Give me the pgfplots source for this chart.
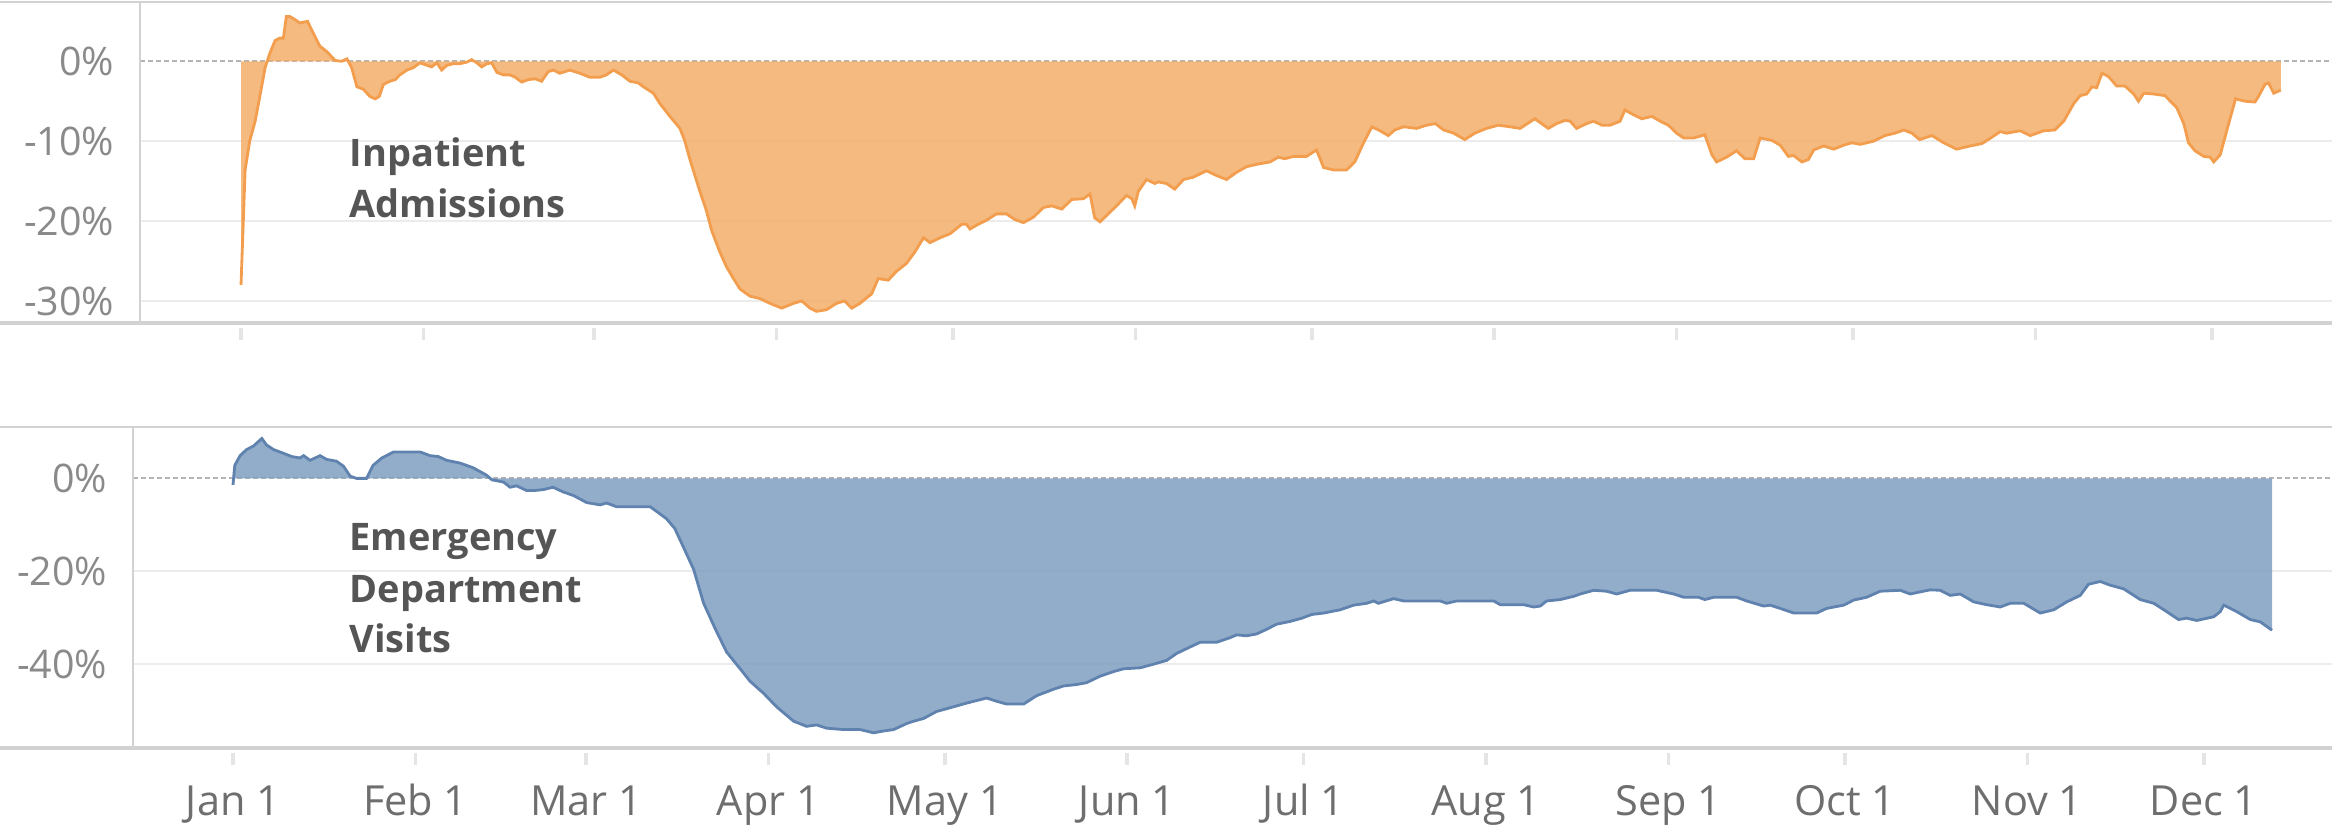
\documentclass[border=0pt]{standalone}
\usepackage{fontspec}
\setmainfont{Open Sans}
\usepackage{pgfplots}
\usepackage{pgfplotstable}
\pgfplotsset{compat=1.18}

\definecolor{orfill}{RGB}{243,174,106}
\definecolor{orline}{RGB}{242,158,78}
\definecolor{blfill}{RGB}{127,159,192}
\definecolor{blline}{RGB}{96,130,175}
\definecolor{gridc}{RGB}{236,236,236}
\definecolor{zeroc}{RGB}{180,180,180}
\definecolor{framec}{RGB}{210,210,210}
\definecolor{ticklab}{RGB}{138,138,138}
\definecolor{monthlab}{RGB}{110,110,110}
\definecolor{labc}{RGB}{85,85,85}

% day of year (0 = Jan 1), percent change
\pgfplotstableread{
d v
0 -28.0
0.7 -13.6
1.5 -9.9
2.4 -7.5
3.2 -4.4
4.1 -0.8
4.9 1.0
5.8 2.6
6.6 2.9
7.2 2.9
7.7 5.6
8.3 5.6
9.2 5.2
10.0 4.8
11.3 5.0
12.3 3.5
13.4 1.9
14.6 1.2
16.0 0.1
17.1 0.0
18.0 0.3
18.8 -0.8
19.7 -3.2
20.8 -3.5
21.9 -4.4
22.8 -4.7
23.5 -4.4
24.2 -2.9
25.3 -2.5
26.2 -2.3
27.0 -1.7
28.2 -1.1
29.3 -0.8
30.4 -0.2
31.6 -0.5
32.4 -0.7
33.3 -0.2
34.1 -1.1
35.0 -0.5
36.1 -0.3
37.2 -0.3
38.4 -0.1
39.2 0.2
40.1 -0.2
40.9 -0.7
41.8 -0.3
42.6 -0.2
43.5 -1.4
44.6 -1.7
45.7 -1.7
46.6 -2.0
47.7 -2.6
48.8 -2.3
50.0 -2.2
51.1 -2.5
52.2 -1.3
53.1 -1.1
54.2 -1.5
55.9 -1.1
57.6 -1.5
59.3 -2.0
61.0 -2.0
62.1 -1.7
63.3 -1.1
64.7 -1.7
66.1 -2.5
67.5 -2.7
68.4 -3.2
70.1 -4.0
71.2 -5.3
72.9 -6.9
74.6 -8.4
75.4 -9.9
76.3 -12.3
78.0 -16.3
79.1 -18.7
80.0 -21.2
81.4 -23.9
82.5 -25.7
83.7 -27.2
84.8 -28.5
86.5 -29.4
88.2 -29.7
89.9 -30.3
91.9 -30.9
93.9 -30.3
95.3 -30.0
96.7 -30.9
97.8 -31.3
99.5 -31.1
101.2 -30.3
102.6 -30.0
103.8 -30.9
105.2 -30.3
107.2 -29.1
108.3 -27.2
110.0 -27.4
111.4 -26.3
113.1 -25.3
114.5 -23.9
116.0 -22.1
117.1 -22.7
118.8 -22.1
120.5 -21.6
122.5 -20.4
123.3 -20.4
123.9 -21.0
125.3 -20.4
126.7 -19.9
128.4 -19.1
130.1 -19.1
131.5 -19.8
133.0 -20.2
134.7 -19.5
136.4 -18.3
137.8 -18.1
139.5 -18.5
141.2 -17.3
143.2 -17.2
144.3 -16.6
145.1 -19.6
146.0 -20.1
147.4 -19.1
148.8 -18.1
150.5 -16.8
151.4 -17.2
151.9 -18.1
152.5 -16.3
153.9 -14.8
155.3 -15.3
155.9 -15.1
157.3 -15.3
158.7 -16.0
160.2 -14.8
161.9 -14.5
164.1 -13.7
165.8 -14.3
167.5 -14.8
169.2 -13.9
170.9 -13.2
172.6 -12.9
174.9 -12.6
176.3 -12.0
177.4 -12.2
178.9 -11.9
181.1 -11.9
182.8 -11.1
184.0 -13.3
185.7 -13.6
187.9 -13.6
189.3 -12.6
190.8 -10.2
192.2 -8.2
193.6 -8.7
195.0 -9.3
196.1 -8.6
197.6 -8.2
199.8 -8.4
201.5 -8.0
203.0 -7.8
204.4 -8.6
206.1 -9.0
208.0 -9.8
209.7 -9.0
211.7 -8.4
213.7 -8.0
215.7 -8.2
217.4 -8.4
219.9 -7.2
222.2 -8.4
223.6 -7.8
225.0 -7.4
225.9 -7.5
227.0 -8.4
228.7 -7.8
229.9 -7.5
231.3 -8.0
232.7 -8.0
234.4 -7.5
235.2 -6.1
236.7 -6.7
238.1 -7.2
239.8 -6.9
241.2 -7.5
242.6 -8.0
244.0 -9.0
245.2 -9.6
246.9 -9.6
248.8 -9.2
250.0 -11.7
250.8 -12.6
252.5 -12.0
254.2 -11.2
255.6 -12.2
257.1 -12.2
258.2 -9.6
260.2 -9.9
261.6 -10.5
263.0 -11.9
263.9 -11.8
265.3 -12.6
266.4 -12.3
267.3 -11.1
269.0 -10.6
270.7 -11.0
272.4 -10.5
273.8 -10.2
275.2 -10.4
277.5 -10.0
279.4 -9.3
281.1 -9.0
282.6 -8.6
284.0 -9.0
285.3 -9.8
287.4 -9.3
289.4 -10.2
291.6 -11.0
293.9 -10.6
295.9 -10.3
297.6 -9.5
299.0 -8.8
300.1 -9.0
302.4 -8.7
304.1 -9.3
306.4 -8.7
308.3 -8.6
309.8 -7.5
311.5 -5.3
312.6 -4.3
313.7 -4.1
314.6 -3.2
315.4 -3.3
316.3 -1.5
317.4 -1.9
318.8 -3.1
320.2 -3.1
321.7 -4.1
322.5 -5.0
323.4 -4.0
325.1 -4.1
327.0 -4.3
329.0 -5.8
330.2 -7.8
331.0 -10.2
332.1 -11.2
333.6 -11.9
334.7 -12.0
335.3 -12.6
336.4 -11.7
337.5 -8.7
339.0 -4.7
340.6 -5.0
342.3 -5.1
342.9 -4.4
344.0 -2.9
344.6 -2.7
345.5 -4.0
346.7 -3.6
}\inpatient

\pgfplotstableread{
d v
0 -1.4
0.3 2.8
1.2 4.9
2.3 6.2
3.5 7.0
4.9 8.6
5.7 7.2
6.9 6.2
8.6 5.4
10.0 4.7
11.4 4.4
12.0 4.9
13.1 3.9
14.8 4.9
15.9 4.1
17.6 3.7
18.8 2.6
19.9 0.5
21.0 0.0
22.7 0.0
23.8 2.8
25.3 4.4
27.3 5.7
29.5 5.7
31.8 5.7
33.5 4.9
34.9 4.7
36.3 3.9
38.6 3.3
40.8 2.3
43.1 0.7
44.0 -0.3
46.0 -0.8
47.1 -1.9
48.2 -1.6
49.9 -2.6
51.3 -2.6
52.8 -2.4
54.4 -1.9
56.1 -2.9
57.9 -3.7
60.1 -5.2
62.4 -5.7
63.5 -5.3
65.2 -6.1
70.9 -6.1
72.0 -7.1
73.7 -8.7
75.1 -10.8
76.6 -14.9
78.3 -19.6
80.0 -26.9
81.9 -32.2
83.9 -37.4
86.2 -41.0
87.9 -43.7
90.2 -46.3
92.4 -49.2
95.3 -52.3
97.5 -53.4
99.2 -53.1
100.9 -53.8
103.8 -54.1
106.6 -54.1
108.9 -54.8
110.6 -54.4
112.3 -54.1
114.5 -52.8
115.7 -52.3
117.4 -51.7
119.6 -50.2
121.9 -49.4
124.7 -48.4
128.1 -47.3
129.8 -48.0
131.5 -48.6
134.4 -48.6
136.6 -46.8
139.5 -45.4
141.2 -44.7
143.4 -44.4
145.1 -44.0
147.4 -42.6
149.7 -41.6
151.4 -41.0
154.2 -40.8
156.5 -40.0
158.7 -39.2
160.4 -37.7
162.7 -36.3
164.4 -35.3
167.2 -35.3
169.5 -34.3
170.6 -33.7
172.3 -33.9
174.0 -33.5
175.7 -32.5
177.4 -31.4
179.7 -30.8
181.7 -30.1
183.4 -29.3
185.4 -29.0
188.2 -28.3
190.5 -27.3
192.7 -26.9
193.9 -26.4
194.7 -26.9
197.3 -25.9
199.0 -26.4
205.2 -26.4
206.3 -26.9
208.0 -26.4
214.3 -26.4
215.4 -27.2
219.4 -27.2
221.1 -27.7
222.2 -27.5
223.3 -26.4
225.6 -26.1
227.9 -25.4
229.0 -24.9
231.3 -24.1
233.5 -24.3
235.2 -24.9
237.5 -24.1
242.0 -24.1
244.9 -24.9
246.6 -25.6
249.1 -25.6
250.2 -26.1
251.7 -25.6
255.6 -25.6
257.3 -26.4
260.2 -27.5
261.3 -27.3
263.0 -28.0
265.3 -29.0
269.2 -29.0
270.9 -28.0
273.8 -27.3
275.5 -26.2
277.7 -25.6
280.0 -24.3
283.4 -24.1
285.1 -24.9
286.2 -24.6
288.5 -24.0
290.2 -24.1
291.9 -25.2
293.6 -24.9
295.9 -26.6
298.1 -27.2
300.4 -27.7
302.1 -26.9
304.4 -26.9
307.2 -29.0
309.5 -28.3
311.7 -26.6
314.0 -25.2
315.4 -22.8
317.4 -22.2
319.1 -23.0
321.4 -23.8
324.2 -26.1
326.5 -26.9
328.7 -28.7
330.7 -30.4
332.1 -30.1
333.8 -30.6
336.7 -29.8
337.8 -28.7
338.4 -27.3
340.6 -28.7
342.9 -30.4
344.6 -30.9
346.6 -32.7
}\emergency

\pgfplotsset{
  panel/.style={
    scale only axis,
    axis line style={draw=none},
    ymajorgrids,
    grid style={gridc, line width=0.6pt},
    ytick style={draw=none},
    extra y ticks={0},
    extra y tick labels={0\%},
    extra y tick style={grid style={zeroc, line width=0.6pt, dash pattern=on 0.05cm off 0.03cm}},
    xtick={0,31,60,91,121,152,182,213,244,274,305,335},
    xtick pos=bottom,
    major tick length=0.12cm,
    xtick style={draw=black!10, line width=1pt, yshift=-0.17cm},
    yticklabel style={font=\fontsize{11.2}{13}\selectfont, text=ticklab,
                      anchor=east, inner sep=0pt, xshift=-0.25cm},
  },
}

\begin{document}
\begin{tikzpicture}
\useasboundingbox (0,0) rectangle (23.32,8.25);

\begin{axis}[panel,
  at={(1.40cm,5.02cm)}, anchor=south west,
  width=21.92cm, height=3.21cm,
  xmin=-17.17, xmax=355.4, ymin=-32.76, ymax=7.42,
  ytick={-30,-20,-10}, yticklabels={-30\%,-20\%,-10\%},
  xticklabels={},
]
\addplot[draw=none, fill=orfill, fill opacity=0.85] table[x=d,y=v] {\inpatient} \closedcycle;
\addplot[orline, line width=0.8pt] table[x=d,y=v] {\inpatient};
\end{axis}

\begin{axis}[panel,
  at={(1.33cm,0.77cm)}, anchor=south west,
  width=21.99cm, height=3.214cm,
  xmin=-17.0, xmax=356.8, ymin=-58.07, ymax=11.16,
  ytick={-40,-20}, yticklabels={-40\%,-20\%},
  xticklabels={Jan 1,Feb 1,Mar 1,Apr 1,May 1,Jun 1,Jul 1,Aug 1,Sep 1,Oct 1,Nov 1,Dec 1},
  xticklabel style={font=\fontsize{11.8}{13}\selectfont, text=monthlab,
                    anchor=base, inner sep=0pt, yshift=-0.67cm},
]
\addplot[draw=none, fill=blfill, fill opacity=0.85] table[x=d,y=v] {\emergency} \closedcycle;
\addplot[blline, line width=0.8pt] table[x=d,y=v] {\emergency};
\end{axis}

% panel frames
\draw[framec, line width=0.6pt] (0,8.226) -- (23.32,8.226);
\draw[framec, line width=1.1pt] (0,5.02) -- (23.32,5.02);
\draw[framec, line width=0.6pt] (1.40,8.226) -- (1.40,5.02);
\draw[framec, line width=0.6pt] (0,3.984) -- (23.32,3.984);
\draw[framec, line width=1.1pt] (0,0.77) -- (23.32,0.77);
\draw[framec, line width=0.6pt] (1.33,3.984) -- (1.33,0.77);

\begin{scope}[every node/.style={anchor=base west, inner sep=0pt, text=labc,
    font=\bfseries\fontsize{10.8}{13}\selectfont}]
\node at (3.49,6.58) {Inpatient};
\node at (3.49,6.07) {Admissions};
\node at (3.49,2.75) {Emergency};
\node at (3.49,2.23) {Department};
\node at (3.49,1.73) {Visits};
\end{scope}
\end{tikzpicture}
\end{document}
